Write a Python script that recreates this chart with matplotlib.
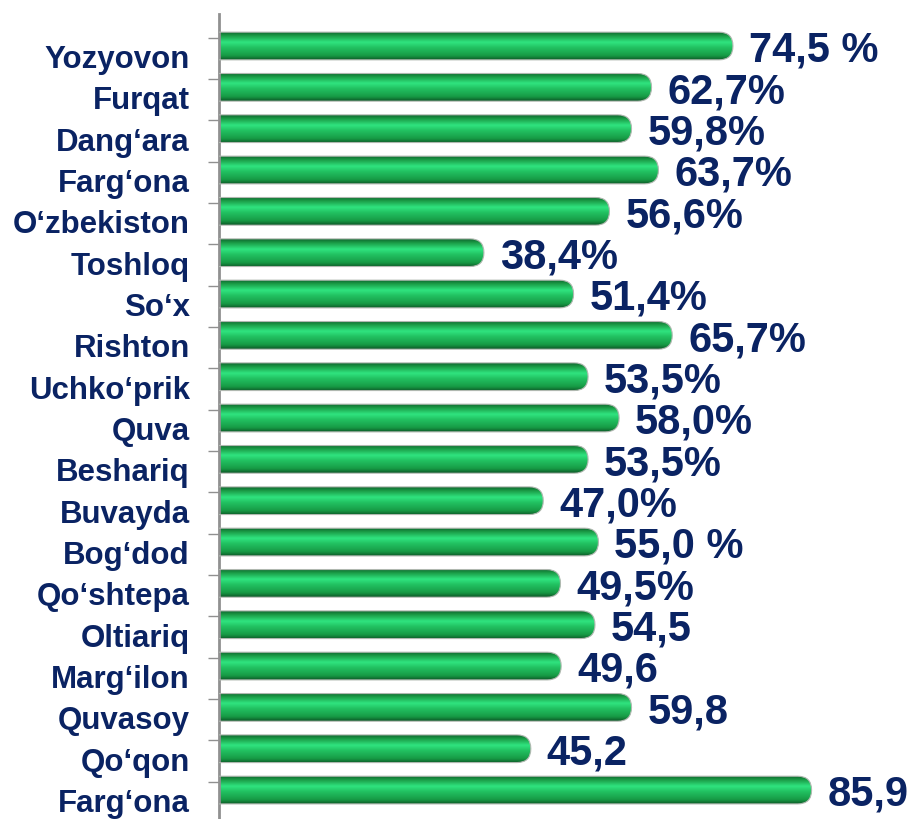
import matplotlib
matplotlib.use("Agg")
import matplotlib.pyplot as plt
import numpy as np
from matplotlib.patches import FancyBboxPatch
from matplotlib.colors import LinearSegmentedColormap
from matplotlib.ticker import FixedLocator

categories = ["Yozyovon", "Furqat", "Dang\u2018ara", "Farg\u2018ona", "O\u2018zbekiston",
              "Toshloq", "So\u2018x", "Rishton", "Uchko\u2018prik", "Quva", "Beshariq",
              "Buvayda", "Bog\u2018dod", "Qo\u2018shtepa", "Oltiariq", "Marg\u2018ilon",
              "Quvasoy", "Qo\u2018qon", "Farg\u2018ona"]
values = [74.5, 62.7, 59.8, 63.7, 56.6, 38.4, 51.4, 65.7, 53.5, 58.0, 53.5,
          47.0, 55.0, 49.5, 54.5, 49.6, 59.8, 45.2, 85.9]
value_labels = ["74,5 %", "62,7%", "59,8%", "63,7%", "56,6%", "38,4%", "51,4%",
                "65,7%", "53,5%", "58,0%", "53,5%", "47,0%", "55,0 %", "49,5%",
                "54,5", "49,6", "59,8", "45,2", "85,9"]

NAVY = "#0a2363"
W, H = 913, 819
fig = plt.figure(figsize=(W / 100, H / 100), dpi=100)
ax_left, ax_right = 219, 913
ax_top, ax_bot = 14, 819
ax = fig.add_axes([ax_left / W, 1 - ax_bot / H, (ax_right - ax_left) / W, (ax_bot - ax_top) / H])

xmax = 100.6
ymin, ymax = 18.70, -0.774
ax.set_xlim(0, xmax)
ax.set_ylim(ymin, ymax)

bar_h = 0.67
px_x = xmax / (ax_right - ax_left)
px_y = (ymin - ymax) / (ax_bot - ax_top)
aspect = px_y / px_x

cmap = LinearSegmentedColormap.from_list("g", [
    (0.0, "#0f6a30"), (0.12, "#1a9a45"), (0.36, "#30e47f"), (0.55, "#22c262"),
    (0.85, "#179a45"), (1.0, "#0c5a28")])
grad = np.linspace(0, 1, 64).reshape(-1, 1)

for i, (v, lab) in enumerate(zip(values, value_labels)):
    y0 = i - bar_h / 2
    r = (bar_h / 2) / aspect
    patch = FancyBboxPatch((-3, y0), v + 3, bar_h,
                           boxstyle=f"round,pad=0,rounding_size={r}",
                           mutation_aspect=aspect, facecolor="none",
                           edgecolor="#b0b8b0", linewidth=0.8, zorder=3)
    ax.add_patch(patch)
    im = ax.imshow(grad, cmap=cmap, aspect="auto", extent=(-3, v, i + bar_h / 2, y0),
                   zorder=2, interpolation="bilinear")
    im.set_clip_path(patch)
    ax.text(v + 2.3, i + 0.38, lab, va="baseline", ha="left", fontsize=30,
            fontweight="bold", color=NAVY, family="Liberation Sans", zorder=4)

ax.set_xlim(0, xmax)
ax.set_ylim(ymin, ymax)

ax.set_yticks([i + 0.53 for i in range(len(categories))])
ax.set_yticklabels(categories, fontsize=22.5, fontweight="bold", color=NAVY,
                   family="Liberation Sans", va="baseline")
ax.tick_params(axis="y", which="major", length=0, pad=21)
ax.yaxis.set_minor_locator(FixedLocator([i - 0.2 for i in range(len(categories))]))
ax.tick_params(axis="y", which="minor", length=8, width=1, color="#909090")
ax.set_xticks([])
for s in ["top", "right", "bottom"]:
    ax.spines[s].set_visible(False)
ax.spines["left"].set_color("#909090")
ax.spines["left"].set_linewidth(2)
ax.set_facecolor("white")

fig.savefig("out.png", dpi=100)
